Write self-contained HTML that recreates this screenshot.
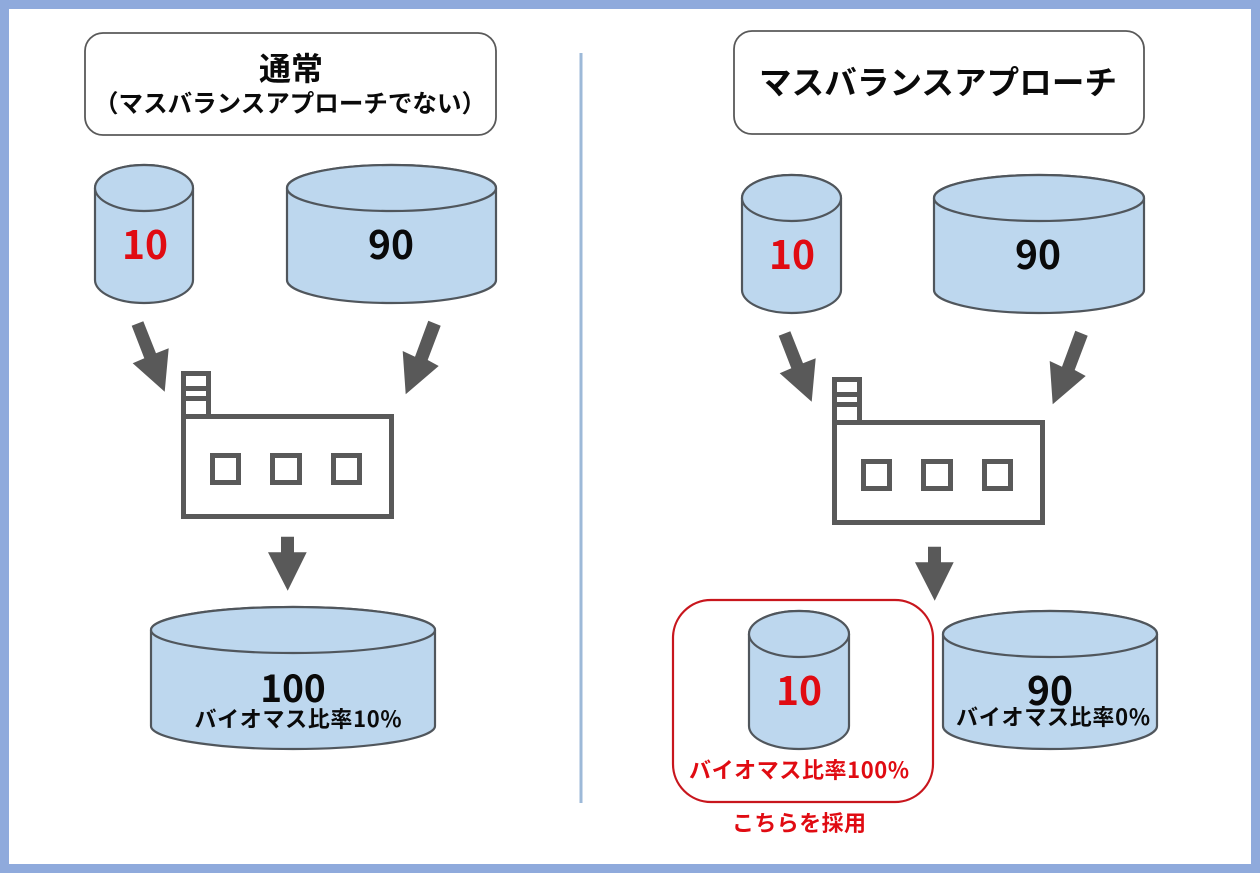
<!DOCTYPE html>
<html lang="ja"><head><meta charset="utf-8"><style>
html,body{margin:0;padding:0;background:#fff}
svg{display:block}
text{font-family:"Noto Sans CJK JP","Liberation Sans",sans-serif;text-anchor:middle;fill:#0a0a0a}
.n{font-size:39px;font-weight:700}
.t{font-weight:700}
.s{font-size:22px;font-weight:700}
.r{fill:#e00b12}
.c{fill:#bdd7ee;stroke:#50565c;stroke-width:2.2}
.a{fill:#595959}
.f{fill:none;stroke:#595959;stroke-width:5}
</style></head><body>
<svg width="1260" height="873" viewBox="0 0 1260 873" xmlns="http://www.w3.org/2000/svg">
<rect x="4.5" y="4.5" width="1251" height="864" fill="#fff" stroke="#8faadc" stroke-width="9"/>
<line x1="581" y1="53" x2="581" y2="803" stroke="#9db9d8" stroke-width="3"/>

<rect x="85" y="33" width="411" height="102" rx="18" fill="#fff" stroke="#595959" stroke-width="1.8"/>
<text x="291" y="80" class="t" font-size="32">通常</text>
<text x="290" y="112" font-size="24.5" font-weight="700" textLength="392" lengthAdjust="spacing">（マスバランスアプローチでない）</text>

<rect x="734" y="31" width="410" height="103" rx="18" fill="#fff" stroke="#595959" stroke-width="1.8"/>
<text x="938" y="94" class="t" font-size="32.5" textLength="358" lengthAdjust="spacing">マスバランスアプローチ</text>

<!-- left cylinders -->
<path class="c" d="M95 188V280A49 23 0 0 0 193 280V188A49 23 0 0 0 95 188Z"/><ellipse class="c" cx="144" cy="188" rx="49" ry="23"/>
<text x="145" y="259" class="n r">10</text>
<path class="c" d="M287 188V280A104.500 23 0 0 0 496 280V188A104.500 23 0 0 0 287 188Z"/><ellipse class="c" cx="391.500" cy="188" rx="104.500" ry="23"/>
<text x="391" y="259" class="n">90</text>

<polygon class="a" points="131.700,325.700 143.300,321.300 156,353.300 168.700,348.300 164.700,391.700 132.700,363.300 144.300,358.300"/>
<polygon class="a" points="428.300,320.700 440.700,325.700 427.700,360 438.700,366 405.700,394.300 402.700,351 415,356.700"/>
<polygon class="a" points="281,536.700 294,536.700 294,552.300 306.700,552.300 287.700,590.700 268,552.300 281,552.300"/>

<g class="f">
<rect x="183.500" y="416.500" width="208" height="100"/>
<path d="M183.500 416V373.500H208.500V416M183.500 388.500H208.500M183.500 398.500H208.500"/>
<rect x="212.500" y="455.500" width="26" height="27"/><rect x="272.500" y="455.500" width="27" height="27"/><rect x="333.500" y="455.500" width="26" height="27"/>
</g>

<path class="c" d="M151 630V726A142 23 0 0 0 435 726V630A142 23 0 0 0 151 630Z"/><ellipse class="c" cx="293" cy="630" rx="142" ry="23"/>
<text x="293" y="702" font-size="37" font-weight="700">100</text>
<text x="298" y="727" class="s" textLength="207" lengthAdjust="spacing">バイオマス比率10%</text>

<!-- right cylinders -->
<path class="c" d="M742 198V290A49.500 23 0 0 0 841 290V198A49.500 23 0 0 0 742 198Z"/><ellipse class="c" cx="791.500" cy="198" rx="49.500" ry="23"/>
<text x="792" y="269" class="n r">10</text>
<path class="c" d="M934 198V290A105 23 0 0 0 1144 290V198A105 23 0 0 0 934 198Z"/><ellipse class="c" cx="1039" cy="198" rx="105" ry="23"/>
<text x="1038" y="269" class="n">90</text>

<polygon class="a" points="778.700,335.700 790.300,331.300 803,363.300 815.700,358.300 811.700,401.700 779.700,373.300 791.300,368.300"/>
<polygon class="a" points="1075.300,330.700 1087.700,335.700 1074.700,370 1085.700,376 1052.700,404.300 1049.700,361 1062,366.700"/>
<polygon class="a" points="928,546.700 941,546.700 941,562.300 953.700,562.300 934.700,600.700 915,562.300 928,562.300"/>

<g class="f">
<rect x="834.500" y="422.500" width="208" height="100"/>
<path d="M834.500 422V379.500H859.500V422M834.500 394.500H859.500M834.500 404.500H859.500"/>
<rect x="863.500" y="461.500" width="26" height="27"/><rect x="923.500" y="461.500" width="27" height="27"/><rect x="984.500" y="461.500" width="26" height="27"/>
</g>

<rect x="673" y="600" width="260" height="202" rx="38" fill="#fff" stroke="#c8161d" stroke-width="2.2"/>
<path class="c" d="M749 634V726A50 23 0 0 0 849 726V634A50 23 0 0 0 749 634Z"/><ellipse class="c" cx="799" cy="634" rx="50" ry="23"/>
<text x="799" y="705" class="n r">10</text>
<text x="799" y="778" class="s r" textLength="220" lengthAdjust="spacing">バイオマス比率100%</text>
<text x="799" y="831" class="s r" textLength="134" lengthAdjust="spacing">こちらを採用</text>

<path class="c" d="M943 634V726A107 23 0 0 0 1157 726V634A107 23 0 0 0 943 634Z"/><ellipse class="c" cx="1050" cy="634" rx="107" ry="23"/>
<text x="1050" y="705" class="n">90</text>
<text x="1053" y="725" class="s" textLength="194" lengthAdjust="spacing">バイオマス比率0%</text>
</svg>
</body></html>
